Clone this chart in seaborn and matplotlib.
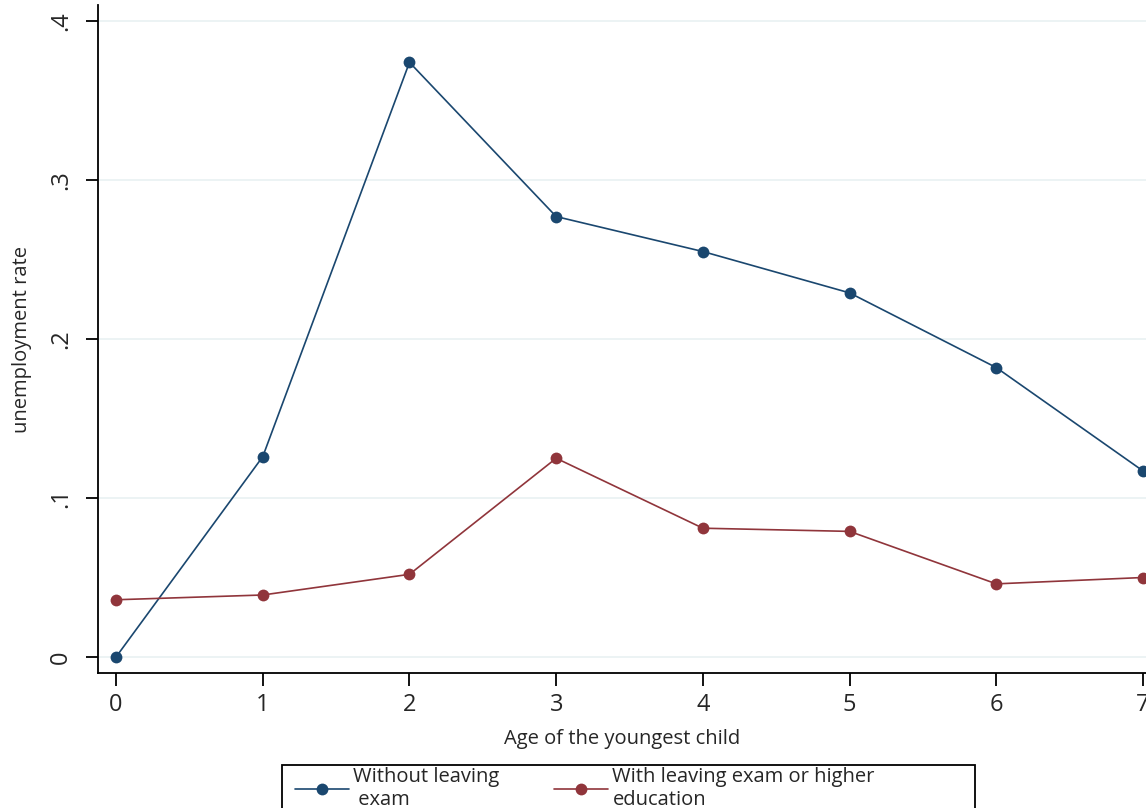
import pandas as pd
import matplotlib
matplotlib.use("Agg")
import matplotlib.pyplot as plt
from matplotlib.patches import Rectangle
import seaborn as sns

# age of the youngest child
ages = [0, 1, 2, 3, 4, 5, 6, 7]
# unemployment rate by education group
without_exam = [0.0, 0.126, 0.374, 0.277, 0.255, 0.229, 0.182, 0.117]
with_exam = [0.036, 0.039, 0.052, 0.125, 0.081, 0.079, 0.046, 0.050]

label_without = "Without leaving\n exam"
label_with = "With leaving exam or higher\neducation"

y_ticks = [0, 0.1, 0.2, 0.3, 0.4]
y_tick_labels = ["0", ".1", ".2", ".3", ".4"]

df = pd.DataFrame({
    "age": ages * 2,
    "rate": without_exam + with_exam,
    "group": [label_without] * len(ages) + [label_with] * len(ages),
})

sns.set_style("white")
plt.rcParams["font.family"] = ["Open Sans", "DejaVu Sans"]

fig = plt.figure(figsize=(11.46, 8.08), dpi=100)
ax = fig.add_axes([0.0855, 0.167, 0.9145, 0.8267])

palette = {label_without: "#1a476f", label_with: "#90353b"}
sns.lineplot(data=df, x="age", y="rate", hue="group", palette=palette,
             marker="o", markersize=8.5, markeredgewidth=0, linewidth=1.2,
             ax=ax, legend=True)

ax.set_xlim(-0.123, 7.02)
ax.set_ylim(-0.0101, 0.41)
ax.set_xticks(ages)
ax.set_yticks(y_ticks)
ax.set_yticklabels(y_tick_labels, rotation=90, va="center")
ax.yaxis.grid(True, color="#eaf2f3", linewidth=1.3)
ax.xaxis.grid(False)

for side in ["top", "right"]:
    ax.spines[side].set_visible(False)
for side in ["left", "bottom"]:
    ax.spines[side].set_color("black")
    ax.spines[side].set_linewidth(1.3)

ax.tick_params(axis="both", which="both", direction="out", length=9,
               width=1.3, color="black", labelsize=17, left=True, bottom=True)
ax.tick_params(axis="y", pad=9)
ax.tick_params(axis="x", pad=5)

ax.set_xlabel("Age of the youngest child", fontsize=14.5, labelpad=9)
ax.set_ylabel("unemployment rate", fontsize=14.5, labelpad=12)

handles, labels = ax.get_legend_handles_labels()
ax.legend(handles, labels, ncol=2, loc="upper left",
          bbox_to_anchor=(295 / 1146, 1 - 767 / 808),
          bbox_transform=fig.transFigure,
          frameon=False, fontsize=14.5,
          handlelength=2.7, borderpad=0, borderaxespad=0,
          columnspacing=2.7, handletextpad=0.2, labelspacing=0.1)

# legend box, running off the bottom edge like the reference
fig.add_artist(Rectangle((282 / 1146, -0.05), (975 - 282) / 1146,
                         0.05 + (808 - 765) / 808, transform=fig.transFigure,
                         fill=False, edgecolor="black", linewidth=1.3))

plt.savefig("out.png", dpi=100)
